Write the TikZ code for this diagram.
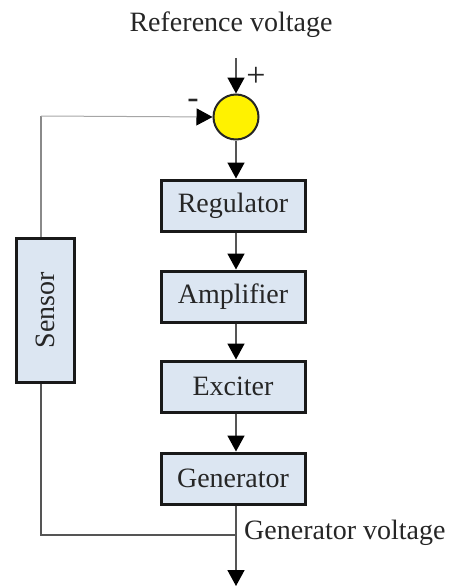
\documentclass[tikz,border=0pt]{standalone}
\usepackage{fontspec}
\setmainfont{Liberation Serif}
\usetikzlibrary{arrows.meta,calc}
\definecolor{boxfill}{HTML}{DCE6F2}
\definecolor{wire}{HTML}{555555}
\definecolor{fbwire}{HTML}{8A8A8A}
\tikzset{
  block/.style={draw=black!90, line width=3pt, fill=boxfill, minimum width=144pt,
    minimum height=51pt, inner sep=0pt, font=\fontsize{28}{30}\selectfont, text=black!85},
  summer/.style={circle, draw=black!85, line width=2pt, fill=yellow, minimum size=45pt, inner sep=0pt},
  lbl/.style={font=\fontsize{28}{30}\selectfont, text=black!85, inner sep=0pt},
  sign/.style={font=\fontsize{34}{36}\selectfont, text=black!85, inner sep=0pt},
  tip/.tip={Triangle[length=16pt,width=17pt,color=black]},
  flow/.style={draw=wire, line width=1.6pt, -tip},
  plain/.style={draw=wire, line width=1.6pt},
}
\begin{document}
\begin{tikzpicture}[x=1pt,y=-1pt]
\useasboundingbox (0,0) rectangle (448,586);

\node[lbl] (ref) at (231,25) {Reference voltage};
\node[summer] (sum) at (236,117) {};
\node[sign] (plus) at (256,77) {+};
\node[sign] (minus) at (193,104) {-};

\node[block] (reg) at (233,205.5) {Regulator};
\node[block] (amp) at (233,296.5) {Amplifier};
\node[block] (exc) at (233,386.5) {Exciter};
\node[block] (gen) at (233,478.5) {Generator};
\node[block, minimum width=58pt, minimum height=144pt] (sensor) at (45,310)
  {\rotatebox{90}{Sensor}};

\coordinate (top) at (236,58);
\coordinate (out) at (236,586);
\coordinate (tap) at (236,535);
\coordinate (fbx) at (41,535);
\coordinate (fbtop) at (41,116);

\node[lbl, anchor=west] (gv) at (244,533) {Generator voltage};

% forward path
\draw[flow] (top) -- (sum.north);
\draw[flow] (sum.south) -- (sum.south |- reg.north);
\draw[flow] (reg.south -| sum) -- (amp.north -| sum);
\draw[flow] (amp.south -| sum) -- (exc.north -| sum);
\draw[flow] (exc.south -| sum) -- (gen.north -| sum);
\draw[flow] (gen.south -| sum) -- (out);

% feedback path
\draw[plain] (tap) -- (fbx) -- (fbx |- sensor.south);
\draw[draw=fbwire, line width=1.6pt] (fbx |- sensor.north) -- (fbtop);
\draw[draw=black!35, line width=1pt, -tip] (fbtop) -- (sum.west);
\end{tikzpicture}
\end{document}
